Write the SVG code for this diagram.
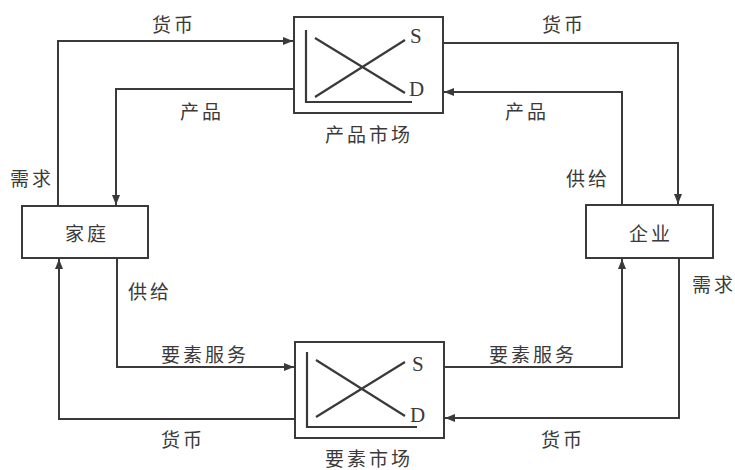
<svg xmlns="http://www.w3.org/2000/svg" width="735" height="470" viewBox="0 0 735 470">
<style>
.box{fill:#fff;stroke:#3a3a3a;stroke-width:2}
.ln{fill:none;stroke:#3a3a3a;stroke-width:2}
.ax{fill:none;stroke:#3a3a3a;stroke-width:2.2}
.t{font-family:"Noto Sans CJK SC","Noto Sans CJK TC",sans-serif;font-size:19px;fill:#3a3a3a;letter-spacing:3px;text-anchor:middle;dominant-baseline:central}
.sd{font-family:"Liberation Serif",serif;font-size:21px;fill:#3a3a3a;dominant-baseline:central}
</style>
<defs>
<marker id="ah" markerUnits="userSpaceOnUse" markerWidth="10" markerHeight="8" refX="10" refY="4" orient="auto">
<path d="M0,0 L10,4 L0,8 Z" fill="#3a3a3a"/>
</marker>
</defs>
<g id="connectors">
<path class="ln" d="M58,206 V41 H293" marker-end="url(#ah)"/>
<text class="t" x="174" y="23">货币</text>
<path class="ln" d="M294,89 H116 V205" marker-end="url(#ah)"/>
<text class="t" x="202" y="110">产品</text>
<text class="t" x="32" y="177">需求</text>
<path class="ln" d="M443,43 H678 V204" marker-end="url(#ah)"/>
<text class="t" x="564" y="23">货币</text>
<path class="ln" d="M622,205 V92 H444" marker-end="url(#ah)"/>
<text class="t" x="527" y="110">产品</text>
<text class="t" x="588" y="177">供给</text>
<path class="ln" d="M117,258 V367 H294" marker-end="url(#ah)"/>
<text class="t" x="150" y="290">供给</text>
<text class="t" x="205" y="353">要素服务</text>
<path class="ln" d="M295,419 H59 V259" marker-end="url(#ah)"/>
<text class="t" x="183" y="438">货币</text>
<path class="ln" d="M444,367 H622 V259" marker-end="url(#ah)"/>
<text class="t" x="533" y="353">要素服务</text>
<path class="ln" d="M679,258 V418 H445" marker-end="url(#ah)"/>
<text class="t" x="563" y="438">货币</text>
<text class="t" x="714" y="283">需求</text>
</g>
<g id="household">
<rect class="box" x="22" y="206" width="126" height="52"/>
<text class="t" x="87" y="232">家庭</text>
</g>
<g id="firm">
<rect class="box" x="586" y="205" width="127" height="53"/>
<text class="t" x="651" y="232">企业</text>
</g>
<g id="product-market">
<rect class="box" x="294" y="17" width="149" height="96"/>
<path class="ax" d="M306,30 V102 H412"/>
<path class="ax" d="M315,97 L405,40 M315,38 L405,93"/>
<text class="sd" x="410" y="36">S</text>
<text class="sd" x="409" y="89">D</text>
<text class="t" x="369" y="133">产品市场</text>
</g>
<g id="factor-market">
<rect class="box" x="295" y="342" width="149" height="96"/>
<path class="ax" d="M307,352 V427 H417"/>
<path class="ax" d="M316,417 L405,362 M316,360 L405,416"/>
<text class="sd" x="412" y="364">S</text>
<text class="sd" x="410" y="415">D</text>
<text class="t" x="369" y="457">要素市场</text>
</g>
</svg>
